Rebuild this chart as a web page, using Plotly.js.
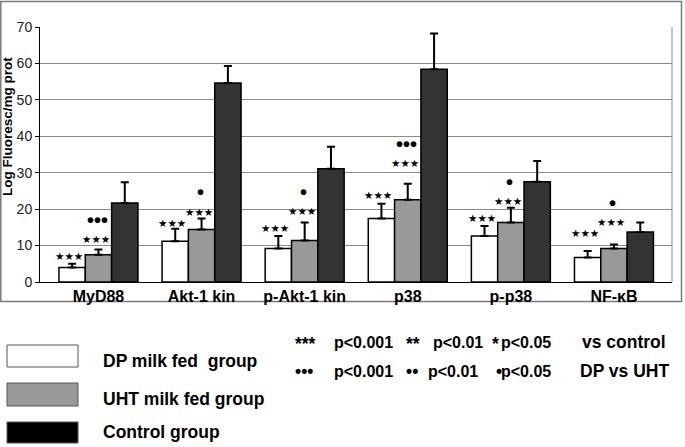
<!DOCTYPE html>
<html>
<head>
<meta charset="utf-8">
<script src="https://cdn.plot.ly/plotly-3.0.1.min.js"></script>
<style>html,body{margin:0;padding:0;background:#fff;}#chart{width:685px;height:447px;}</style>
</head>
<body>
<div id="chart"></div>
<script>
// ---- data ----
const categories = ["MyD88", "Akt-1 kin", "p-Akt-1 kin", "p38", "p-p38", "NF-κB"];
const seriesNames = ["DP milk fed  group", "UHT milk fed group", "Control group"];
const dpMean   = [4.0, 11.2, 9.2, 17.4, 12.6, 6.7];
const dpErr    = [1.0, 3.4, 3.4, 4.1, 2.8, 1.8];
const uhtMean  = [7.5, 14.4, 11.4, 22.6, 16.3, 9.2];
const uhtErr   = [1.4, 3.0, 4.9, 4.4, 4.1, 1.1];
const ctrlMean = [21.7, 54.6, 31.1, 58.4, 27.5, 13.7];
const ctrlErr  = [5.7, 4.7, 6.0, 9.8, 5.7, 2.6];
const yTicks   = [0, 10, 20, 30, 40, 50, 60, 70];
// significance marks
const dpVsCtrl  = ["***", "***", "***", "***", "***", "***"];
const uhtVsCtrl = ["***", "***", "***", "***", "***", "***"];
const dpVsUht   = ["•••", "•", "•", "•••", "•", "•"];

// ---- placement of the mark labels (value units) ----
const dpMarkY  = [7.05, 16.2, 14.7, 23.8, 17.7, 13.5];
const uhtMarkY = [11.7, 19.2, 19.4, 32.7, 22.2, 16.5];
const dotMarkY = [16.7, 24.4, 24.4, 37.7, 27.2, 21.3];

// ---- layout helpers ----
const W = 685, H = 447;
const M = {l: 40, r: 13, t: 27, b: 165};
const PW = W - M.l - M.r, PH = H - M.t - M.b;
const px = x => (x - M.l) / PW;
const py = y => (H - M.b - y) / PH;
const bargap = 0.234;
const barW = (1 - bargap) / 3;

function barTrace(name, y, err, color) {
  return {
    type: 'bar', name: name, x: categories, y: y,
    marker: {color: color, line: {color: '#000', width: 1.5}},
    error_y: {type: 'data', array: err, arrayminus: err.map(() => 0), symmetric: false,
              color: '#000', thickness: 2, width: 4},
    hoverinfo: 'skip'
  };
}

const traces = [
  barTrace(seriesNames[0], dpMean, dpErr, '#ffffff'),
  barTrace(seriesNames[1], uhtMean, uhtErr, '#999999'),
  barTrace(seriesNames[2], ctrlMean, ctrlErr, '#333333')
];

const annotations = [];
const starFont = {family: 'DejaVu Sans', size: 10.5, color: '#000'};
const dotFont = {family: 'Arial, Liberation Sans', size: 20, color: '#000', weight: 'bold'};
const toStars = s => s.replace(/\*/g, '★');
categories.forEach((c, i) => {
  annotations.push({xref: 'x', yref: 'y', x: i - barW, y: dpMarkY[i], xshift: -3, text: toStars(dpVsCtrl[i]),
    showarrow: false, font: starFont, xanchor: 'center', yanchor: 'middle'});
  annotations.push({xref: 'x', yref: 'y', x: i, y: uhtMarkY[i], xshift: -2.5, text: toStars(uhtVsCtrl[i]),
    showarrow: false, font: starFont, xanchor: 'center', yanchor: 'middle'});
  annotations.push({xref: 'x', yref: 'y', x: i, y: dotMarkY[i], xshift: -1, yshift: 1, text: dpVsUht[i],
    showarrow: false, font: dotFont, xanchor: 'center', yanchor: 'middle'});
});

// y-axis title
annotations.push({xref: 'paper', yref: 'paper', x: px(7), y: py(127), text: 'Log Fluoresc/mg prot',
  textangle: -90, showarrow: false, xanchor: 'center', yanchor: 'middle',
  font: {family: 'Arial, Liberation Sans', size: 13.5, color: '#000', weight: 'bold'}});

// legend texts
const legFont = {family: 'Arial, Liberation Sans', size: 17.5, color: '#000', weight: 'bold'};
const pFont = {family: 'Arial, Liberation Sans', size: 16, color: '#000', weight: 'bold'};
const legRows = [361, 399, 432];
seriesNames.forEach((n, i) => {
  annotations.push({xref: 'paper', yref: 'paper', x: px(101), y: py(legRows[i]),
    text: n.replace('  ', '\u00a0 '), showarrow: false, xanchor: 'left', yanchor: 'middle', font: legFont});
});
const sigRow1 = [[293, '***'], [332, 'p<0.001'], [404, '**'], [431, 'p<0.01'], [490, '*'], [499, 'p<0.05'], [580, 'vs control']];
const sigRow2 = [[293, '•••'], [332, 'p<0.001'], [404, '••'], [426, 'p<0.01'], [494, '•'], [499, 'p<0.05'], [578, 'DP vs UHT']];
const fontFor = t => t.startsWith('p<') ? pFont : legFont;
sigRow1.forEach(([x, t]) => annotations.push({xref: 'paper', yref: 'paper', x: px(x), y: py(t.startsWith('*') ? 344 : 342), text: t,
  showarrow: false, xanchor: 'left', yanchor: 'middle', font: fontFor(t)}));
sigRow2.forEach(([x, t]) => annotations.push({xref: 'paper', yref: 'paper', x: px(x), y: py(371), text: t,
  showarrow: false, xanchor: 'left', yanchor: 'middle', font: fontFor(t)}));

const swatchFill = ['#ffffff', '#999999', '#000000'];
const swatchY = [[345, 367], [383, 406], [422, 443]];
const shapes = [
  // outer frame
  {type: 'rect', xref: 'paper', yref: 'paper', x0: px(0.8), x1: px(681.5), y0: py(1.5), y1: py(301.5),
   line: {color: '#7a7a7a', width: 1.5}, fillcolor: 'rgba(0,0,0,0)', layer: 'below'},
  // right edge of plot area
  {type: 'line', xref: 'paper', yref: 'paper', x0: 1, x1: 1, y0: 0, y1: 1, line: {color: '#8a8a8a', width: 1}}
];
swatchY.forEach((yy, i) => shapes.push({type: 'rect', xref: 'paper', yref: 'paper', x0: px(7), x1: px(78),
  y0: py(yy[1]), y1: py(yy[0]), fillcolor: swatchFill[i], line: {color: '#555', width: 1}}));

const layout = {
  width: W, height: H, margin: M,
  paper_bgcolor: '#fff', plot_bgcolor: '#fff',
  showlegend: false,
  barmode: 'group', bargap: bargap, bargroupgap: 0,
  font: {family: 'Arial, Liberation Sans', color: '#000'},
  xaxis: {type: 'category', range: [-0.567, 5.563], showgrid: false, showline: true, linecolor: '#000', linewidth: 1,
          ticks: '', tickfont: {family: 'Arial, Liberation Sans', size: 16, color: '#000', weight: 'bold'}, fixedrange: true},
  yaxis: {range: [0, 70], tickvals: yTicks, ticktext: yTicks.map(String), showgrid: true, gridcolor: '#8a8a8a', gridwidth: 1,
          showline: true, linecolor: '#000', linewidth: 1, ticks: 'outside', ticklen: 4, tickcolor: '#000',
          tickfont: {family: 'Arial, Liberation Sans', size: 14, color: '#222'}, zeroline: false, fixedrange: true},
  annotations: annotations,
  shapes: shapes
};

Plotly.newPlot('chart', traces, layout, {displayModeBar: false, staticPlot: true});
</script>
</body>
</html>
